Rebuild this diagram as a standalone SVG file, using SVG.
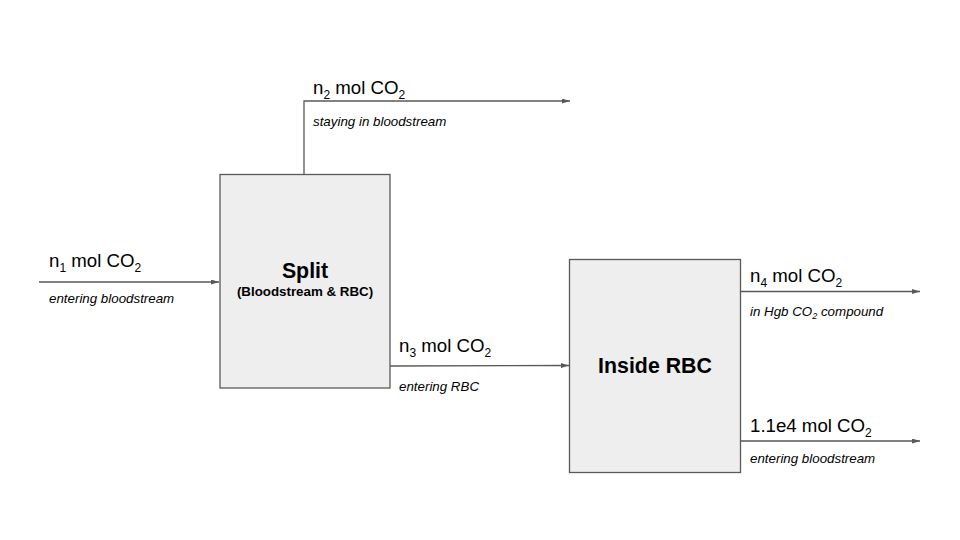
<svg xmlns="http://www.w3.org/2000/svg" width="960" height="540" viewBox="0 0 960 540">
<defs>
<style>
.box{fill:#eeeeee;stroke:#595959;stroke-width:1.3}
.ln{fill:none;stroke:#595959;stroke-width:1.3}
.lbl{font-family:"Liberation Sans",Arial,sans-serif;font-size:18.67px;fill:#000}
.sub{font-size:12px}
.it{font-family:"Liberation Sans",Arial,sans-serif;font-size:13.33px;font-style:italic;fill:#000}
.isub{font-size:9px}
.t1{font-family:"Liberation Sans",Arial,sans-serif;font-size:21.33px;font-weight:bold;fill:#000}
.t2{font-family:"Liberation Sans",Arial,sans-serif;font-size:13.33px;font-weight:bold;fill:#000}
</style>
<marker id="ah" viewBox="0 0 8 5" refX="8" refY="2.5" markerWidth="8" markerHeight="5" markerUnits="userSpaceOnUse" orient="auto">
<path d="M0,0 L8,2.5 L0,5 Z" fill="#595959"/>
</marker>
</defs>
<rect width="960" height="540" fill="#ffffff"/>
<g id="connectors">
<line class="ln" x1="39" y1="282" x2="219" y2="282" marker-end="url(#ah)"/>
<polyline class="ln" points="304,174 304,101 570,101" marker-end="url(#ah)"/>
<line class="ln" x1="390" y1="366" x2="569" y2="365.5" marker-end="url(#ah)"/>
<line class="ln" x1="741" y1="291.5" x2="920" y2="291.5" marker-end="url(#ah)"/>
<line class="ln" x1="741" y1="441" x2="920" y2="441" marker-end="url(#ah)"/>
</g>
<g id="split">
<rect class="box" x="220" y="174.5" width="170" height="213.5"/>
<text class="t1" x="305" y="278" text-anchor="middle">Split</text>
<text class="t2" x="305" y="296" text-anchor="middle">(Bloodstream &amp; RBC)</text>
</g>
<g id="inside-rbc">
<rect class="box" x="569.5" y="259.5" width="171" height="213"/>
<text class="t1" x="655" y="373" text-anchor="middle">Inside RBC</text>
</g>
<g id="label-n1">
<text class="lbl" x="49" y="267">n<tspan class="sub" dy="5">1</tspan><tspan dy="-5"> mol CO</tspan><tspan class="sub" dy="5">2</tspan></text>
<text class="it" x="49" y="303">entering bloodstream</text>
</g>
<g id="label-n2">
<text class="lbl" x="313" y="94">n<tspan class="sub" dy="5">2</tspan><tspan dy="-5"> mol CO</tspan><tspan class="sub" dy="5">2</tspan></text>
<text class="it" x="313" y="126">staying in bloodstream</text>
</g>
<g id="label-n3">
<text class="lbl" x="399" y="352">n<tspan class="sub" dy="5">3</tspan><tspan dy="-5"> mol CO</tspan><tspan class="sub" dy="5">2</tspan></text>
<text class="it" x="399" y="391">entering RBC</text>
</g>
<g id="label-n4">
<text class="lbl" x="750" y="282">n<tspan class="sub" dy="5">4</tspan><tspan dy="-5"> mol CO</tspan><tspan class="sub" dy="5">2</tspan></text>
<text class="it" x="750" y="316">in Hgb CO<tspan class="isub" dy="3">2</tspan><tspan dy="-3"> compound</tspan></text>
</g>
<g id="label-out">
<text class="lbl" x="750" y="432">1.1e4 mol CO<tspan class="sub" dy="5">2</tspan></text>
<text class="it" x="750" y="463">entering bloodstream</text>
</g>
</svg>
